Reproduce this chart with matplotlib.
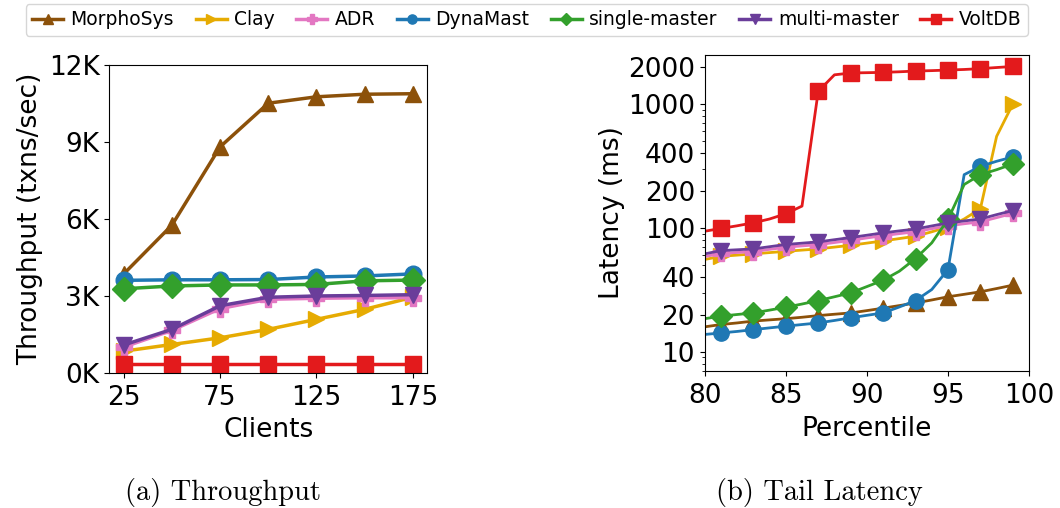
import numpy as np
import matplotlib
matplotlib.use("Agg")
import matplotlib.pyplot as plt
from matplotlib.ticker import FixedLocator, NullFormatter, LogLocator

# systems, in legend order
systems = ["MorphoSys", "Clay", "ADR", "DynaMast", "single-master", "multi-master", "VoltDB"]
colors = ["#8c510a", "#e6ab02", "#e377c2", "#1f78b4", "#33a02c", "#6a3d9a", "#e31a1c"]
markers = ["^", ">", "P", "o", "D", "v", "s"]

# throughput vs clients (txns/sec)
clients = [25, 50, 75, 100, 125, 150, 175]
tput_morphosys = [3850, 5750, 8800, 10500, 10750, 10850, 10870]
tput_clay = [840, 1100, 1360, 1690, 2080, 2470, 2940]
tput_adr = [1000, 1650, 2500, 2860, 2900, 2920, 2920]
tput_dynamast = [3600, 3620, 3620, 3630, 3730, 3770, 3850]
tput_single = [3270, 3380, 3420, 3420, 3440, 3580, 3610]
tput_multi = [1080, 1690, 2610, 2940, 2990, 3010, 3040]
tput_voltdb = [330, 330, 330, 330, 330, 330, 330]

# latency (ms) by percentile, 80..99
percentiles = list(range(80, 100))
lat_morphosys = [15.9, 16.6, 17.1, 17.7, 18.1, 18.5, 19.0, 19.6, 20.1, 20.6, 21.5, 22.5,
                 23.6, 24.8, 26.2, 27.8, 29.1, 30.5, 32.4, 34.5]
lat_clay = [55.6, 59.0, 60.3, 61.7, 63.2, 64.7, 66.2, 67.7, 70.0, 72.4, 75.4, 78.5,
            82.0, 85.7, 93.0, 102, 118, 143, 548, 1000]
lat_adr = [58.6, 62.3, 63.3, 64.3, 67.1, 69.8, 71.6, 73.2, 76.2, 79.4, 83.0, 86.6,
           89.9, 93.1, 98.5, 104, 108, 112, 121, 131]
lat_dynamast = [13.8, 14.2, 14.6, 15.1, 15.6, 16.1, 16.6, 17.1, 17.9, 18.8, 19.7, 20.6,
                23.0, 25.9, 31.8, 46.1, 269, 314, 345, 374]
lat_single = [18.5, 19.4, 20.0, 20.6, 21.7, 22.9, 24.3, 25.9, 27.8, 29.9, 33.6, 37.8,
              44.7, 56.6, 75.7, 117, 224, 269, 295, 328]
lat_multi = [61.7, 65.6, 66.6, 67.7, 70.5, 73.5, 75.3, 77.1, 80.3, 83.6, 87.3, 91.2,
             94.6, 98.0, 103.7, 109.7, 113.8, 118, 128, 138]
lat_voltdb = [94, 99, 104, 110, 118, 130, 150, 1265, 1720, 1780, 1790, 1800,
              1820, 1845, 1860, 1880, 1900, 1930, 1970, 2010]

tput = [tput_morphosys, tput_clay, tput_adr, tput_dynamast, tput_single, tput_multi, tput_voltdb]
lat = [lat_morphosys, lat_clay, lat_adr, lat_dynamast, lat_single, lat_multi, lat_voltdb]

plt.rcParams["font.family"] = "DejaVu Sans"

fig = plt.figure(figsize=(10.6, 5.08), dpi=100)
ax1 = fig.add_axes([0.1031, 0.2663, 0.3000, 0.6063])
ax2 = fig.add_axes([0.6648, 0.2697, 0.3060, 0.6226])

handles = []
for name, c, m, y in zip(systems, colors, markers, tput):
    h, = ax1.plot(clients, y, color=c, marker=m, markersize=12, linewidth=2.5, label=name)
    handles.append(h)

ax1.set_ylim(0, 12000)
ax1.set_yticks([0, 3000, 6000, 9000, 12000])
ax1.set_yticklabels(["0K", "3K", "6K", "9K", "12K"])
ax1.set_xticks([25, 75, 125, 175])
ax1.set_xlabel("Clients", fontsize=19, labelpad=5)
ax1.set_ylabel("Throughput (txns/sec)", fontsize=19, labelpad=4)
ax1.tick_params(labelsize=19)
ax1.tick_params(axis="x", pad=5)

for name, c, m, y in zip(systems, colors, markers, lat):
    ax2.plot(percentiles, y, color=c, marker=m, markersize=11, linewidth=2,
             markevery=(1, 2), label=name)

ax2.set_yscale("log")
ax2.set_xlim(80, 100)
ax2.set_ylim(7, 2500)
ax2.set_xticks([80, 85, 90, 95, 100])
ax2.yaxis.set_major_locator(FixedLocator([10, 20, 40, 100, 200, 400, 1000, 2000]))
ax2.set_yticklabels(["10", "20", "40", "100", "200", "400", "1000", "2000"])
ax2.yaxis.set_minor_locator(LogLocator(base=10, subs=np.arange(2, 10)))
ax2.yaxis.set_minor_formatter(NullFormatter())
ax2.set_xlabel("Percentile", fontsize=19, labelpad=5)
ax2.set_ylabel("Latency (ms)", fontsize=19, labelpad=2)
ax2.tick_params(labelsize=19)
ax2.tick_params(axis="x", pad=5)

fig.legend(handles=handles, loc="upper center", bbox_to_anchor=(0.497, 1.0), ncol=7,
           fontsize=13.5, markerscale=0.55, handlelength=1.65, columnspacing=1.15,
           handletextpad=0.4, borderpad=0.35, borderaxespad=0.2)

fig.text(0.210, 0.031, "(a) Throughput", family="cmr10", fontsize=20.5, ha="center", va="center")
fig.text(0.773, 0.031, "(b) Tail Latency", family="cmr10", fontsize=20.5, ha="center", va="center")

fig.savefig("out.png", dpi=100)
